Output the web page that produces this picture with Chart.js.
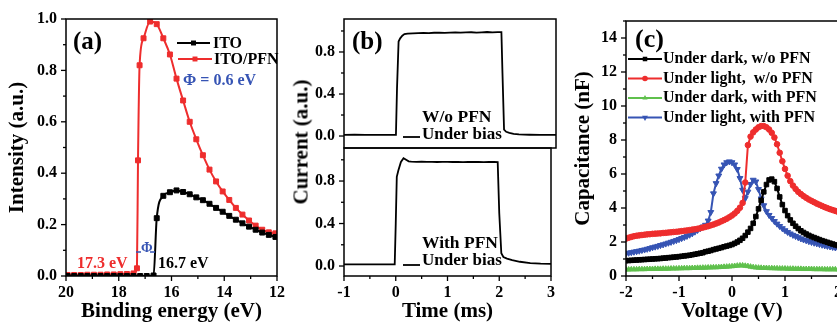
<!DOCTYPE html>
<html>
<head>
<meta charset="utf-8">
<script src="https://cdn.jsdelivr.net/npm/chart.js@4.4.1/dist/chart.umd.min.js"></script>
<style>
html, body { margin: 0; padding: 0; background: #fff; overflow: hidden; width: 837px; height: 324px; }
canvas { position: absolute; }
#ytitleB { position: absolute; left: 301px; top: 142px; transform: translate(-50%, -50%) rotate(-90deg);
  font: bold 21px 'Liberation Serif', 'Times New Roman', serif; white-space: nowrap; color: #000; }
</style>
</head>
<body>
<canvas id="chartA" width="292" height="324" style="left:0;top:0"></canvas>
<canvas id="chartB1" width="272" height="150" style="left:290px;top:0"></canvas>
<canvas id="chartB2" width="272" height="178" style="left:290px;top:146px"></canvas>
<canvas id="chartC" width="300" height="324" style="left:562px;top:0"></canvas>
<div id="ytitleB">Current (a.u.)</div>
<script>
// ---- panel (a): secondary electron cutoff ----
var itoEnergy = [19.94, 19.69, 19.44, 19.19, 18.94, 18.69, 18.44, 18.19, 17.94, 17.69, 17.44, 17.19, 16.94, 16.68,
  16.56, 16.31, 16.06, 15.81, 15.56, 15.31, 15.06, 14.81, 14.56, 14.31, 14.06, 13.81, 13.56, 13.31, 13.06, 12.81, 12.56, 12.31, 12.06];
var itoIntensity = [0, 0, 0, 0, 0, 0, 0, 0, 0, 0, 0, 0, 0, 0.002,
  0.225, 0.312, 0.326, 0.333, 0.327, 0.318, 0.306, 0.295, 0.281, 0.265, 0.25, 0.234, 0.219, 0.205, 0.192, 0.18, 0.169, 0.16, 0.152];
var pfnEnergy = [19.94, 19.69, 19.44, 19.19, 18.94, 18.69, 18.44, 18.19, 17.94, 17.69, 17.44, 17.31, 17.27, 17.21,
  17.06, 16.81, 16.56, 16.31, 16.06, 15.81, 15.56, 15.31, 15.06, 14.81, 14.56, 14.31, 14.06, 13.81, 13.56, 13.31, 13.06, 12.81, 12.56, 12.31, 12.06];
var pfnIntensity = [0.004, 0.004, 0.004, 0.005, 0.005, 0.005, 0.006, 0.006, 0.007, 0.008, 0.01, 0.03, 0.45, 0.82,
  0.925, 0.99, 0.98, 0.925, 0.862, 0.768, 0.683, 0.6, 0.532, 0.47, 0.414, 0.368, 0.329, 0.296, 0.265, 0.239, 0.216, 0.196, 0.18, 0.17, 0.166];
var energyTicks = [20, 18, 16, 14, 12];
var intensityTicks = [0, 0.2, 0.4, 0.6, 0.8, 1.0];

// ---- panel (b): transient current ----
var timeTop = [-1.0, -0.8, -0.6, -0.4, -0.2, -0.02, 0.0, 0.03, 0.06, 0.1, 0.14, 0.2, 0.3, 0.4, 0.5, 0.6, 0.7, 0.8, 0.9, 1.0,
  1.1, 1.2, 1.3, 1.4, 1.5, 1.6, 1.7, 1.8, 1.9, 1.97, 1.99, 2.02, 2.06, 2.12, 2.2, 2.3, 2.5, 2.7, 2.9, 3.0];
var currentTop = [0.01, 0.012, 0.01, 0.011, 0.01, 0.01, 0.45, 0.9, 0.93, 0.955, 0.97, 0.975, 0.978, 0.98, 0.982, 0.98, 0.983, 0.985, 0.982, 0.985,
  0.987, 0.984, 0.986, 0.988, 0.985, 0.987, 0.99, 0.987, 0.99, 0.99, 0.6, 0.06, 0.04, 0.03, 0.02, 0.015, 0.012, 0.01, 0.01, 0.01];
var timeBottom = [-1.0, -0.8, -0.6, -0.4, -0.2, -0.02, 0.0, 0.02, 0.05, 0.1, 0.15, 0.2, 0.25, 0.3, 0.4, 0.5, 0.6, 0.7, 0.8, 0.9,
  1.0, 1.1, 1.2, 1.3, 1.4, 1.5, 1.6, 1.7, 1.8, 1.9, 1.97, 2.0, 2.04, 2.08, 2.15, 2.25, 2.4, 2.6, 2.8, 3.0];
var currentBottom = [0.015, 0.015, 0.016, 0.015, 0.015, 0.015, 0.4, 0.84, 0.9, 0.98, 1.015, 1.0, 0.985, 0.982, 0.98, 0.982, 0.98, 0.981, 0.979, 0.98,
  0.981, 0.979, 0.98, 0.978, 0.98, 0.979, 0.981, 0.978, 0.98, 0.979, 0.978, 0.5, 0.12, 0.085, 0.07, 0.055, 0.04, 0.028, 0.022, 0.02];
var timeTicks = [-1, 0, 1, 2, 3];
var currentTicks = [0, 0.4, 0.8];

// ---- panel (c): capacitance vs voltage ----
var voltage = [-2.00, -1.95, -1.90, -1.85, -1.80, -1.75, -1.70, -1.65, -1.60, -1.55, -1.50, -1.45, -1.40, -1.35, -1.30, -1.25, -1.20, -1.15, -1.10, -1.05, -1.00,
  -0.95, -0.90, -0.85, -0.80, -0.75, -0.70, -0.65, -0.60, -0.55, -0.50, -0.45, -0.40, -0.35, -0.30, -0.25, -0.20, -0.15, -0.10, -0.05, 0.00,
  0.05, 0.10, 0.15, 0.20, 0.25, 0.30, 0.35, 0.40, 0.45, 0.50, 0.55, 0.60, 0.65, 0.70, 0.75, 0.80, 0.85, 0.90, 0.95, 1.00,
  1.05, 1.10, 1.15, 1.20, 1.25, 1.30, 1.35, 1.40, 1.45, 1.50, 1.55, 1.60, 1.65, 1.70, 1.75, 1.80, 1.85, 1.90, 1.95, 2.00, 2.05, 2.10, 2.15, 2.20];
var darkNoPfn = [0.90, 0.91, 0.92, 0.93, 0.94, 0.95, 0.96, 0.97, 0.98, 0.99, 1.00, 1.01, 1.02, 1.03, 1.05, 1.06, 1.08, 1.09, 1.11, 1.12, 1.14,
  1.16, 1.18, 1.20, 1.22, 1.25, 1.28, 1.31, 1.34, 1.37, 1.43, 1.46, 1.50, 1.55, 1.59, 1.63, 1.67, 1.72, 1.76, 1.80, 1.85,
  1.92, 2.00, 2.10, 2.22, 2.38, 2.58, 2.80, 3.10, 3.50, 3.95, 4.45, 4.95, 5.38, 5.65, 5.70, 5.55, 5.15, 4.65, 4.20, 3.85,
  3.55, 3.30, 3.10, 2.93, 2.79, 2.66, 2.56, 2.47, 2.39, 2.32, 2.26, 2.20, 2.14, 2.08, 2.03, 1.98, 1.93, 1.88, 1.83, 1.79, 1.75, 1.71, 1.68, 1.65];
var lightNoPfn = [2.20, 2.25, 2.30, 2.34, 2.37, 2.39, 2.41, 2.43, 2.45, 2.46, 2.48, 2.49, 2.50, 2.51, 2.53, 2.54, 2.56, 2.57, 2.59, 2.60, 2.62,
  2.64, 2.66, 2.68, 2.70, 2.73, 2.75, 2.78, 2.81, 2.85, 2.89, 2.93, 2.98, 3.03, 3.09, 3.15, 3.22, 3.29, 3.37, 3.46, 3.56,
  3.68, 3.83, 4.02, 4.30, 5.50, 7.70, 8.20, 8.45, 8.62, 8.75, 8.82, 8.82, 8.75, 8.62, 8.42, 8.15, 7.75, 7.25, 6.75, 6.30,
  5.90, 5.58, 5.32, 5.12, 4.95, 4.82, 4.70, 4.60, 4.50, 4.42, 4.34, 4.26, 4.19, 4.12, 4.05, 3.99, 3.93, 3.88, 3.83, 3.78, 3.74, 3.70, 3.66, 3.62];
var darkPfn = [0.38, 0.38, 0.39, 0.39, 0.39, 0.40, 0.40, 0.40, 0.41, 0.41, 0.41, 0.42, 0.42, 0.42, 0.43, 0.43, 0.43, 0.44, 0.44, 0.44, 0.45,
  0.45, 0.46, 0.46, 0.46, 0.47, 0.47, 0.48, 0.48, 0.49, 0.49, 0.50, 0.50, 0.51, 0.51, 0.52, 0.53, 0.54, 0.55, 0.56, 0.57,
  0.59, 0.61, 0.62, 0.62, 0.60, 0.58, 0.55, 0.52, 0.50, 0.49, 0.48, 0.47, 0.47, 0.46, 0.46, 0.45, 0.45, 0.44, 0.44, 0.44,
  0.43, 0.43, 0.43, 0.42, 0.42, 0.42, 0.41, 0.41, 0.41, 0.41, 0.40, 0.40, 0.40, 0.40, 0.39, 0.39, 0.39, 0.39, 0.39, 0.38, 0.38, 0.38, 0.38, 0.38];
var lightPfn = [1.33, 1.36, 1.39, 1.42, 1.45, 1.48, 1.52, 1.55, 1.59, 1.63, 1.68, 1.72, 1.76, 1.81, 1.85, 1.90, 1.95, 2.00, 2.05, 2.10, 2.16,
  2.22, 2.28, 2.35, 2.42, 2.50, 2.60, 2.70, 2.80, 2.90, 3.00, 3.25, 3.75, 4.85, 5.45, 5.90, 6.30, 6.55, 6.68, 6.73, 6.68,
  6.55, 6.28, 5.75, 5.06, 4.57, 4.95, 5.40, 5.65, 5.55, 5.10, 4.55, 4.15, 3.80, 3.58, 3.40, 3.22, 3.07, 2.93, 2.80, 2.68,
  2.58, 2.49, 2.41, 2.34, 2.27, 2.20, 2.14, 2.09, 2.04, 1.99, 1.95, 1.91, 1.87, 1.83, 1.79, 1.76, 1.73, 1.70, 1.67, 1.64, 1.61, 1.59, 1.57, 1.55];
var voltageTicks = [-2, -1, 0, 1, 2];
var capTicks = [0, 2, 4, 6, 8, 10, 12, 14];

var RED = '#ee2d2d', GREEN = '#5fc04c', BLUE = '#3654b4';
var FONT = "'Liberation Serif', 'Times New Roman', serif";

Chart.defaults.font.family = FONT;
Chart.defaults.font.weight = 'bold';
Chart.defaults.color = '#000';

function pts(xs, ys) {
  return xs.map(function (x, i) { return {x: x, y: ys[i]}; });
}

// marker like chart.js drawPoint, used for the hand drawn legends
function drawMarker(ctx, style, x, y, r, color, rotation) {
  ctx.save();
  ctx.fillStyle = color;
  ctx.beginPath();
  if (style === 'rect') {
    var s = Math.SQRT1_2 * r;
    ctx.rect(x - s, y - s, 2 * s, 2 * s);
  } else if (style === 'triangle') {
    var rad = (rotation || 0) * Math.PI / 180;
    for (var k = 0; k < 3; k++) {
      var a = rad + k * 2 * Math.PI / 3;
      ctx[k ? 'lineTo' : 'moveTo'](x + Math.sin(a) * r, y - Math.cos(a) * r);
    }
    ctx.closePath();
  } else {
    ctx.arc(x, y, r, 0, 2 * Math.PI);
  }
  ctx.fill();
  ctx.restore();
}

// plot box + outward major/minor tick marks
var framePlugin = {
  id: 'frame',
  afterDraw: function (chart, args, opts) {
    var ctx = chart.ctx, a = chart.chartArea;
    ctx.save();
    ctx.strokeStyle = '#000';
    ctx.lineWidth = 1.5;
    ctx.strokeRect(a.left, a.top, a.right - a.left, a.bottom - a.top);
    ctx.lineWidth = 1.3;
    ['x', 'y'].forEach(function (id) {
      var o = opts[id];
      if (!o) return;
      var s = chart.scales[id];
      var first = Math.ceil(s.min / o.minor - 1e-6), last = Math.floor(s.max / o.minor + 1e-6);
      for (var k = first; k <= last; k++) {
        var v = k * o.minor;
        var major = s.ticks.some(function (t) { return Math.abs(t.value - v) < 1e-6; });
        var len = major ? 5 : 3;
        var p = s.getPixelForValue(v);
        ctx.beginPath();
        if (id === 'x') { ctx.moveTo(p, a.bottom); ctx.lineTo(p, a.bottom + len); }
        else { ctx.moveTo(a.left, p); ctx.lineTo(a.left - len, p); }
        ctx.stroke();
      }
    });
    ctx.restore();
  }
};

// labels, legend lines with markers
var notesPlugin = {
  id: 'notes',
  afterDraw: function (chart, args, opts) {
    var ctx = chart.ctx;
    ctx.save();
    (opts.lines || []).forEach(function (l) {
      ctx.strokeStyle = l.color || '#000';
      ctx.lineWidth = l.width || 2;
      ctx.beginPath();
      ctx.moveTo(l.x1, l.y);
      ctx.lineTo(l.x2, l.y);
      ctx.stroke();
      if (l.marker) drawMarker(ctx, l.marker, (l.x1 + l.x2) / 2, l.y, l.r || 3.5, l.color || '#000', l.rot);
    });
    ctx.textBaseline = 'middle';
    ctx.textAlign = 'left';
    (opts.texts || []).forEach(function (t) {
      ctx.fillStyle = t.color || '#000';
      ctx.font = 'bold ' + t.size + 'px ' + FONT;
      ctx.fillText(t.text, t.x, t.y);
    });
    ctx.restore();
  }
};

function fixedTicks(list) {
  return function (s) { s.ticks = list.map(function (v) { return {value: v}; }); };
}

function xAxis(min, max, ticks, title, opts) {
  var ax = {
    type: 'linear', min: min, max: max,
    afterBuildTicks: fixedTicks(ticks),
    afterFit: function (s) { s.height = 48; },
    grid: {display: false, drawTicks: false},
    border: {display: false},
    ticks: {padding: 7, maxRotation: 0, autoSkip: false, font: {size: 16, weight: 'bold'}, color: '#000'},
    title: {display: !!title, text: title, font: {size: 21, weight: 'bold'}, color: '#000', padding: {top: 0, bottom: 0}}
  };
  return Object.assign(ax, opts || {});
}

function yAxis(min, max, ticks, width, title, titlePad, fmt) {
  return {
    type: 'linear', min: min, max: max,
    afterBuildTicks: fixedTicks(ticks),
    // pin the axis width and drop the label overhang so the plot box lands where it should
    afterFit: function (s) { s.width = width; s.paddingTop = 0; s.paddingBottom = 0; },
    grid: {display: false, drawTicks: false},
    border: {display: false},
    ticks: {padding: 9, font: {size: 16, weight: 'bold'}, color: '#000', callback: fmt},
    title: {display: !!title, text: title, font: {size: 21, weight: 'bold'}, color: '#000', padding: {top: titlePad || 0, bottom: 0}}
  };
}

var baseOpts = {
  responsive: false,
  animation: false,
  devicePixelRatio: 1,
  events: []
};

function lineSet(data, color, style, radius, rot, extra) {
  return Object.assign({
    data: data, borderColor: color, backgroundColor: color, borderWidth: 2,
    pointStyle: style, pointRadius: radius, pointBorderWidth: 1, pointRotation: rot || 0,
    pointBackgroundColor: color, pointBorderColor: color, tension: 0, fill: false
  }, extra || {});
}

// panel (a)
new Chart(document.getElementById('chartA'), {
  type: 'line',
  data: {
    datasets: [
      lineSet(pts(itoEnergy, itoIntensity), '#000', 'rect', 3.5, 0, {cubicInterpolationMode: 'monotone'}),
      lineSet(pts(pfnEnergy, pfnIntensity), RED, 'rect', 3.5, 0, {cubicInterpolationMode: 'monotone'})
    ]
  },
  options: Object.assign({}, baseOpts, {
    layout: {padding: {top: 19, right: 14, bottom: 0, left: 0}},
    scales: {
      x: xAxis(12, 20, energyTicks, 'Binding energy (eV)', {reverse: true}),
      y: yAxis(0, 1, intensityTicks, 66, 'Intensity (a.u.)', 5, function (v) { return v.toFixed(1); })
    },
    plugins: {
      legend: {display: false}, tooltip: {enabled: false},
      frame: {x: {minor: 1}, y: {minor: 0.1}},
      notes: {
        lines: [
          {x1: 177, x2: 210, y: 43, color: '#000', marker: 'rect'},
          {x1: 178, x2: 212, y: 59, color: RED, marker: 'rect'},
          {x1: 136, x2: 141, y: 252, color: BLUE, width: 1.5},
          {x1: 150, x2: 155, y: 252, color: BLUE, width: 1.5}
        ],
        texts: [
          {text: '(a)', x: 73, y: 43, size: 25},
          {text: 'ITO', x: 213, y: 44, size: 16},
          {text: 'ITO/PFN', x: 214, y: 60, size: 16},
          {text: 'Φ = 0.6 eV', x: 183, y: 81, size: 16, color: BLUE},
          {text: '17.3 eV', x: 77, y: 264, size: 16, color: RED},
          {text: '16.7 eV', x: 158, y: 264, size: 16},
          {text: 'Φ', x: 141, y: 248, size: 14, color: BLUE}
        ]
      }
    }
  }),
  plugins: [framePlugin, notesPlugin]
});

// panel (b), upper half
new Chart(document.getElementById('chartB1'), {
  type: 'line',
  data: {datasets: [lineSet(pts(timeTop, currentTop), '#000', 'circle', 0, 0, {borderWidth: 1.8})]},
  options: Object.assign({}, baseOpts, {
    layout: {padding: {top: 19, right: 6, bottom: 2, left: 0}},
    scales: {
      x: {type: 'linear', min: -1, max: 3, display: false},
      y: yAxis(-0.114, 1.114, currentTicks, 54, '', 0, function (v) { return v.toFixed(1); })
    },
    plugins: {
      legend: {display: false}, tooltip: {enabled: false},
      frame: {y: {minor: 0.2}},
      notes: {
        lines: [{x1: 113, x2: 130, y: 137, color: '#000', width: 1.8}],
        texts: [
          {text: '(b)', x: 62, y: 43, size: 25},
          {text: 'W/o PFN', x: 132, y: 117, size: 17.5},
          {text: 'Under bias', x: 132, y: 135, size: 17}
        ]
      }
    }
  }),
  plugins: [framePlugin, notesPlugin]
});

// panel (b), lower half
new Chart(document.getElementById('chartB2'), {
  type: 'line',
  data: {datasets: [lineSet(pts(timeBottom, currentBottom), '#000', 'circle', 0, 0, {borderWidth: 1.8})]},
  options: Object.assign({}, baseOpts, {
    layout: {padding: {top: 2, right: 6, bottom: 0, left: 0}},
    scales: {
      x: xAxis(-1, 3, timeTicks, 'Time (ms)'),
      y: yAxis(-0.094, 1.111, currentTicks, 54, '', 0, function (v) { return v.toFixed(1); })
    },
    plugins: {
      legend: {display: false}, tooltip: {enabled: false},
      frame: {x: {minor: 0.5}, y: {minor: 0.2}},
      notes: {
        lines: [{x1: 113, x2: 130, y: 119, color: '#000', width: 1.8}],
        texts: [
          {text: 'With PFN', x: 132, y: 97, size: 17.5},
          {text: 'Under bias', x: 132, y: 115, size: 17}
        ]
      }
    }
  }),
  plugins: [framePlugin, notesPlugin]
});

// panel (c)
new Chart(document.getElementById('chartC'), {
  type: 'line',
  data: {
    datasets: [
      lineSet(pts(voltage, darkNoPfn), '#000', 'rect', 3.2),
      lineSet(pts(voltage, lightNoPfn), RED, 'circle', 2.8),
      lineSet(pts(voltage, darkPfn), GREEN, 'triangle', 3),
      lineSet(pts(voltage, lightPfn), BLUE, 'triangle', 3.4, 180)
    ]
  },
  options: Object.assign({}, baseOpts, {
    layout: {padding: {top: 21, right: 24, bottom: 0, left: 0}},
    scales: {
      x: xAxis(-2, 2, voltageTicks, 'Voltage (V)'),
      y: yAxis(0, 15, capTicks, 64, 'Capacitance (nF)', 9, function (v) { return String(v); })
    },
    plugins: {
      legend: {display: false}, tooltip: {enabled: false},
      frame: {x: {minor: 0.5}, y: {minor: 1}},
      notes: {
        lines: [
          {x1: 66, x2: 100, y: 59, color: '#000', marker: 'rect', r: 3.2},
          {x1: 66, x2: 100, y: 78.5, color: RED, marker: 'circle', r: 2.8},
          {x1: 66, x2: 100, y: 98, color: GREEN, marker: 'triangle', r: 3},
          {x1: 66, x2: 100, y: 117.5, color: BLUE, marker: 'triangle', r: 3.4, rot: 180}
        ],
        texts: [
          {text: '(c)', x: 73, y: 40, size: 26},
          {text: 'Under dark, w/o PFN', x: 101, y: 59, size: 16},
          {text: 'Under light,  w/o PFN', x: 101, y: 79, size: 16},
          {text: 'Under dark, with PFN', x: 101, y: 98, size: 16},
          {text: 'Under light, with PFN', x: 101, y: 118, size: 16}
        ]
      }
    }
  }),
  plugins: [framePlugin, notesPlugin]
});
</script>
</body>
</html>
